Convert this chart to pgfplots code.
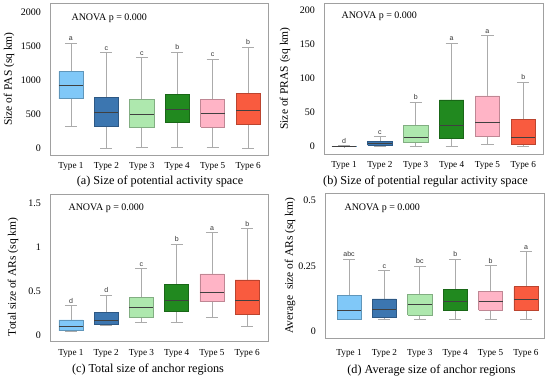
\documentclass[border=0pt]{standalone}
\usepackage{pgfplots}
\pgfplotsset{compat=1.18}
\usepackage{fontspec}
\setmainfont{Liberation Serif}
\newfontfamily\arial{Liberation Sans}
\definecolor{c1}{HTML}{80C8F8}
\definecolor{c2}{HTML}{3C76B0}
\definecolor{c3}{HTML}{AEE8AE}
\definecolor{c4}{HTML}{21891F}
\definecolor{c5}{HTML}{FFB4C6}
\definecolor{c6}{HTML}{F95B3F}
\definecolor{wgray}{HTML}{ABABAB}
\definecolor{fgray}{HTML}{A0A0A0}
% box: #1 position, #2 lower whisker, #3 lower quartile, #4 median, #5 upper quartile, #6 upper whisker, #7 colour
\newcommand{\bx}[7]{%
  \pgfmathsetmacro\xl{#1-0.34}\pgfmathsetmacro\xr{#1+0.34}%
  \pgfmathsetmacro\cl{#1-0.17}\pgfmathsetmacro\cr{#1+0.17}%
  \addplot[wgray, line width=0.8pt] coordinates {(#1,#2) (#1,#3)};
  \addplot[wgray, line width=0.8pt] coordinates {(#1,#5) (#1,#6)};
  \addplot[wgray, line width=0.8pt] coordinates {(\cl,#2) (\cr,#2)};
  \addplot[wgray, line width=0.8pt] coordinates {(\cl,#6) (\cr,#6)};
  \addplot[fill=#7, draw=#7!75!black, line width=0.6pt] coordinates {(\xl,#3) (\xr,#3) (\xr,#5) (\xl,#5) (\xl,#3)};
  \addplot[black!75, line width=0.9pt] coordinates {(\xl,#4) (\xr,#4)};
}
\pgfplotsset{
  panel/.style={
    scale only axis, anchor=south west,
    axis line style={draw=fgray, line width=0.9pt},
    tick style={draw=none},
    xtick={1,2,3,4,5,6},
    xticklabels={Type 1,Type 2,Type 3,Type 4,Type 5,Type 6},
    xticklabel style={font=\fontsize{9.2}{11}\selectfont, anchor=base, yshift=-14pt},
    yticklabel style={font=\fontsize{10}{12}\selectfont, anchor=east, inner sep=0pt, xshift=-9pt},
    ylabel style={font=\fontsize{11.5}{13}\selectfont, anchor=center, rotate=0},
    xlabel style={font=\fontsize{12.2}{14}\selectfont, at={(axis description cs:0.5,0)}, anchor=center},
    /pgf/number format/assume math mode=true,
    clip=false,
  },
  lett/.style={draw=none, nodes near coords, point meta=explicit symbolic,
    nodes near coords style={font=\arial\fontsize{7}{8}\selectfont, text=black!80, anchor=south, inner sep=1pt, yshift=1pt}},
}
\begin{document}
\begin{tikzpicture}
\useasboundingbox (0,0) rectangle (550pt,379pt);
% (a)
\begin{axis}[panel, at={(50pt,224pt)}, width=218pt, height=152pt,
  xmin=0.41, xmax=6.56, ymin=-103, ymax=2139,
  ytick={0,500,1000,1500,2000}, yticklabels={0,500,1000,1500,2000},
  ylabel={Size of PAS (sq km)}, ylabel style={at={([xshift=-41pt]axis description cs:0,0.5)}},
  xlabel={(a) Size of potential activity space}, xlabel style={yshift=-27pt, xshift=1pt}]
\bx{1}{321}{726}{923}{1131}{1546}{c1}
\bx{2}{0}{321}{528}{750}{1407}{c2}
\bx{3}{15}{301}{494}{716}{1338}{c3}
\bx{4}{15}{385}{570}{785}{1417}{c4}
\bx{5}{15}{311}{509}{716}{1309}{c5}
\bx{6}{0}{346}{558}{800}{1486}{c6}
\addplot[lett] coordinates {(1,1546)[a] (2,1407)[c] (3,1338)[c] (4,1417)[b] (5,1309)[c] (6,1486)[b]};
\node[anchor=west, font=\fontsize{10}{12}\selectfont] at ([xshift=18pt,yshift=-15pt]rel axis cs:0,1) {ANOVA p = 0.000};
\end{axis}
% (b)
\begin{axis}[panel, at={(324pt,225pt)}, width=219pt, height=151pt,
  xmin=0.44, xmax=6.55, ymin=-10.8, ymax=211.3,
  ytick={0,50,100,150,200},
  ylabel={Size of PRAS (sq km)}, ylabel style={at={([xshift=-39pt]axis description cs:0,0.5)}},
  xlabel={(b) Size of potential regular activity space}, xlabel style={yshift=-28pt, xshift=-8pt}]
\bx{1}{0}{0.2}{0.5}{0.9}{1.2}{c1}
\bx{2}{1}{2}{4.4}{7.9}{14.7}{c2}
\bx{3}{1}{5.9}{13.3}{31.4}{65.4}{c3}
\bx{4}{1}{12.8}{30.5}{68.8}{152.3}{c4}
\bx{5}{3}{15.7}{34.9}{74.7}{163}{c5}
\bx{6}{1}{3.9}{12.8}{40.3}{94.8}{c6}
\addplot[lett] coordinates {(1,1.2)[d] (2,14.7)[c] (3,65.4)[b] (4,152.3)[a] (5,163)[a] (6,94.8)[b]};
\node[anchor=west, font=\fontsize{10}{12}\selectfont] at ([xshift=14pt,yshift=-13pt]rel axis cs:0,1) {ANOVA p = 0.000};
\end{axis}
% (c)
\begin{axis}[panel, at={(50pt,37.3pt)}, width=218pt, height=147.7pt,
  xmin=0.405, xmax=6.59, ymin=-0.068, ymax=1.605,
  ytick={0,0.5,1,1.5}, yticklabels={0,0.5,1,1.5},
  ylabel={Total size of ARs (sq km)}, ylabel style={at={([xshift=-37pt,yshift=-9pt]axis description cs:0,0.5)}},
  xlabel={(c) Total size of anchor regions}, xlabel style={yshift=-28pt, xshift=-11pt}]
\bx{1}{0.05}{0.057}{0.102}{0.178}{0.344}{c1}
\bx{2}{0.12}{0.125}{0.178}{0.261}{0.461}{c2}
\bx{3}{0.155}{0.208}{0.325}{0.434}{0.763}{c3}
\bx{4}{0.155}{0.272}{0.404}{0.578}{1.039}{c4}
\bx{5}{0.208}{0.385}{0.491}{0.699}{1.171}{c5}
\bx{6}{0.11}{0.238}{0.404}{0.631}{1.213}{c6}
\addplot[lett] coordinates {(1,0.344)[d] (2,0.461)[d] (3,0.763)[c] (4,1.039)[b] (5,1.171)[a] (6,1.213)[b]};
\node[anchor=west, font=\fontsize{10}{12}\selectfont] at ([xshift=15pt,yshift=-14pt]rel axis cs:0,1) {ANOVA p = 0.000};
\end{axis}
% (d)
\begin{axis}[panel, at={(325pt,40.7pt)}, width=219pt, height=145pt,
  xmin=0.32, xmax=6.51, ymin=-0.025, ymax=0.5266,
  ytick={0,0.25,0.5}, yticklabels={0,0.25,0.5},
  ylabel={Average\ \ size of ARs (sq km)}, ylabel style={at={([xshift=-35pt]axis description cs:0,0.5)}},
  xlabel={(d) Average size of anchor regions}, xlabel style={yshift=-32pt, xshift=-3pt},
  xticklabel style={yshift=-3pt}]
\bx{1}{0.048}{0.048}{0.080}{0.138}{0.276}{c1}
\bx{2}{0.048}{0.056}{0.086}{0.125}{0.232}{c2}
\bx{3}{0.048}{0.063}{0.105}{0.142}{0.249}{c3}
\bx{4}{0.048}{0.081}{0.115}{0.160}{0.277}{c4}
\bx{5}{0.048}{0.082}{0.116}{0.154}{0.252}{c5}
\bx{6}{0.048}{0.082}{0.124}{0.171}{0.305}{c6}
\addplot[lett] coordinates {(1,0.276)[abc] (2,0.232)[c] (3,0.249)[bc] (4,0.277)[b] (5,0.252)[b] (6,0.305)[a]};
\node[anchor=west, font=\fontsize{10}{12}\selectfont] at ([xshift=16pt,yshift=-15pt]rel axis cs:0,1) {ANOVA p = 0.000};
\end{axis}
\end{tikzpicture}
\end{document}
